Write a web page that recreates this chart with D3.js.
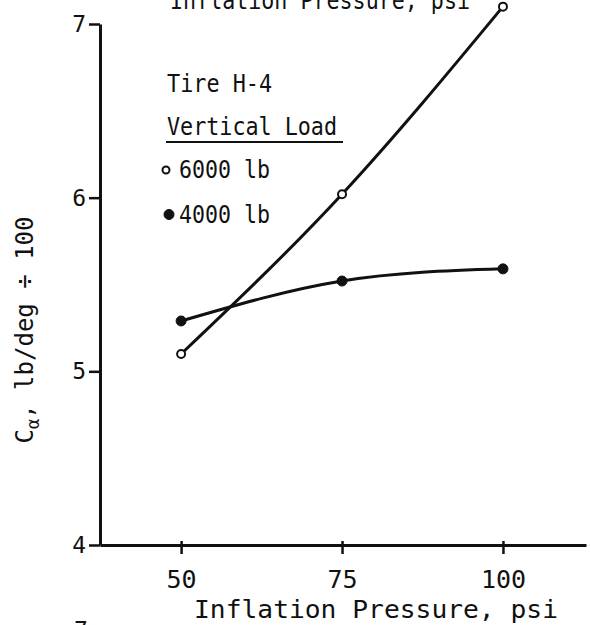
<!DOCTYPE html>
<html>
<head>
<meta charset="utf-8">
<script src="https://cdn.jsdelivr.net/npm/d3@7"></script>
<style>
  html, body { margin: 0; padding: 0; background: #fff; }
  svg { display: block; }
  text { font-family: 'DejaVu Sans Mono', monospace; fill: #111; }
</style>
</head>
<body>
<div id="chart"></div>
<script>
// inflation pressure, psi
const pressures = [50, 75, 100];
// cornering stiffness C_alpha, lb/deg / 100
const load6000 = [5.10, 6.02, 7.10];
const load4000 = [5.29, 5.52, 5.59];
const xTicks = [50, 75, 100];
const yTicks = [4, 5, 6, 7];
const seriesNames = ['6000 lb', '4000 lb'];

const width = 591, height = 625;
const ink = '#111';

const svg = d3.select('#chart')
    .append('svg')
    .attr('width', width)
    .attr('height', height);

const x = d3.scaleLinear().domain([37.4, 112.9]).range([100, 586]);
const y = d3.scaleLinear().domain([4, 7]).range([545, 24]);

// x axis
const xAxis = svg.append('g')
    .attr('transform', `translate(0, ${y(4)})`)
    .call(d3.axisBottom(x).tickValues(xTicks).tickFormat(d3.format('d')).tickSizeInner(9).tickSizeOuter(0));
xAxis.select('.domain').attr('stroke', ink).attr('stroke-width', 3);
xAxis.selectAll('.tick line').attr('stroke', ink).attr('stroke-width', 2.5).attr('y1', -4);
xAxis.selectAll('.tick text')
    .attr('y', 43)
    .attr('dy', 0)
    .attr('font-size', 25)
    .attr('font-family', 'DejaVu Sans Mono')
    .attr('fill', ink);

// y axis
const yAxis = svg.append('g')
    .attr('transform', `translate(${x(37.4)}, 0)`)
    .call(d3.axisLeft(y).tickValues(yTicks).tickFormat(d3.format('d')).tickSizeInner(11).tickSizeOuter(0).tickPadding(3));
yAxis.select('.domain').attr('stroke', ink).attr('stroke-width', 3);
yAxis.selectAll('.tick line').attr('stroke', ink).attr('stroke-width', 2.5);
yAxis.selectAll('.tick text')
    .attr('font-size', 23)
    .attr('font-family', 'DejaVu Sans Mono')
    .attr('fill', ink);

// axis titles
svg.append('text')
    .attr('x', 376)
    .attr('y', 618)
    .attr('text-anchor', 'middle')
    .attr('font-size', 25)
    .attr('textLength', 364)
    .attr('lengthAdjust', 'spacingAndGlyphs')
    .text('Inflation Pressure, psi');

const yLabel = svg.append('text')
    .attr('transform', 'translate(33, 330) rotate(-90)')
    .attr('text-anchor', 'middle')
    .attr('font-size', 24);
yLabel.append('tspan').text('C');
yLabel.append('tspan').attr('font-size', 17).attr('dy', 6).text('α');
yLabel.append('tspan').attr('dy', -6).text(', lb/deg ÷ 100');

// cut-off title of the figure above and tick of the figure below
svg.append('text')
    .attr('x', 170)
    .attr('y', 9)
    .attr('font-size', 24)
    .attr('textLength', 300)
    .attr('lengthAdjust', 'spacingAndGlyphs')
    .text('Inflation Pressure, psi');
svg.append('text')
    .attr('x', 74)
    .attr('y', 638)
    .attr('font-size', 23)
    .text('7');

// curves
const line = d3.line()
    .x((d) => x(d[0]))
    .y((d) => y(d[1]))
    .curve(d3.curveNatural);

const series = [
    {name: seriesNames[0], values: load6000, open: true},
    {name: seriesNames[1], values: load4000, open: false}
];

series.forEach((s) => {
    const pts = pressures.map((p, i) => [p, s.values[i]]);
    svg.append('path')
        .datum(pts)
        .attr('d', line)
        .attr('fill', 'none')
        .attr('stroke', ink)
        .attr('stroke-width', 3);
    svg.append('g')
        .selectAll('circle')
        .data(pts)
        .enter()
        .append('circle')
        .attr('cx', (d) => x(d[0]))
        .attr('cy', (d) => y(d[1]))
        .attr('r', s.open ? 4 : 5)
        .attr('fill', s.open ? '#fff' : ink)
        .attr('stroke', ink)
        .attr('stroke-width', s.open ? 2 : 1);
});

// legend
const legend = svg.append('g');
legend.append('text')
    .attr('x', 167)
    .attr('y', 92)
    .attr('font-size', 24)
    .attr('textLength', 105)
    .attr('lengthAdjust', 'spacingAndGlyphs')
    .text('Tire H-4');
legend.append('text')
    .attr('x', 167)
    .attr('y', 135)
    .attr('font-size', 24)
    .attr('textLength', 170)
    .attr('lengthAdjust', 'spacingAndGlyphs')
    .text('Vertical Load');
legend.append('line')
    .attr('x1', 166).attr('x2', 343)
    .attr('y1', 142).attr('y2', 142)
    .attr('stroke', ink)
    .attr('stroke-width', 2);

series.forEach((s, i) => {
    const ly = 178 + i * 44.5;
    legend.append('circle')
        .attr('cx', s.open ? 166 : 169)
        .attr('cy', ly - 8)
        .attr('r', s.open ? 3.5 : 5)
        .attr('fill', s.open ? '#fff' : ink)
        .attr('stroke', ink)
        .attr('stroke-width', s.open ? 2 : 1);
    legend.append('text')
        .attr('x', 179)
        .attr('y', ly)
        .attr('font-size', 24)
        .attr('textLength', 91)
        .attr('lengthAdjust', 'spacingAndGlyphs')
        .text(s.name);
});
</script>
</body>
</html>
